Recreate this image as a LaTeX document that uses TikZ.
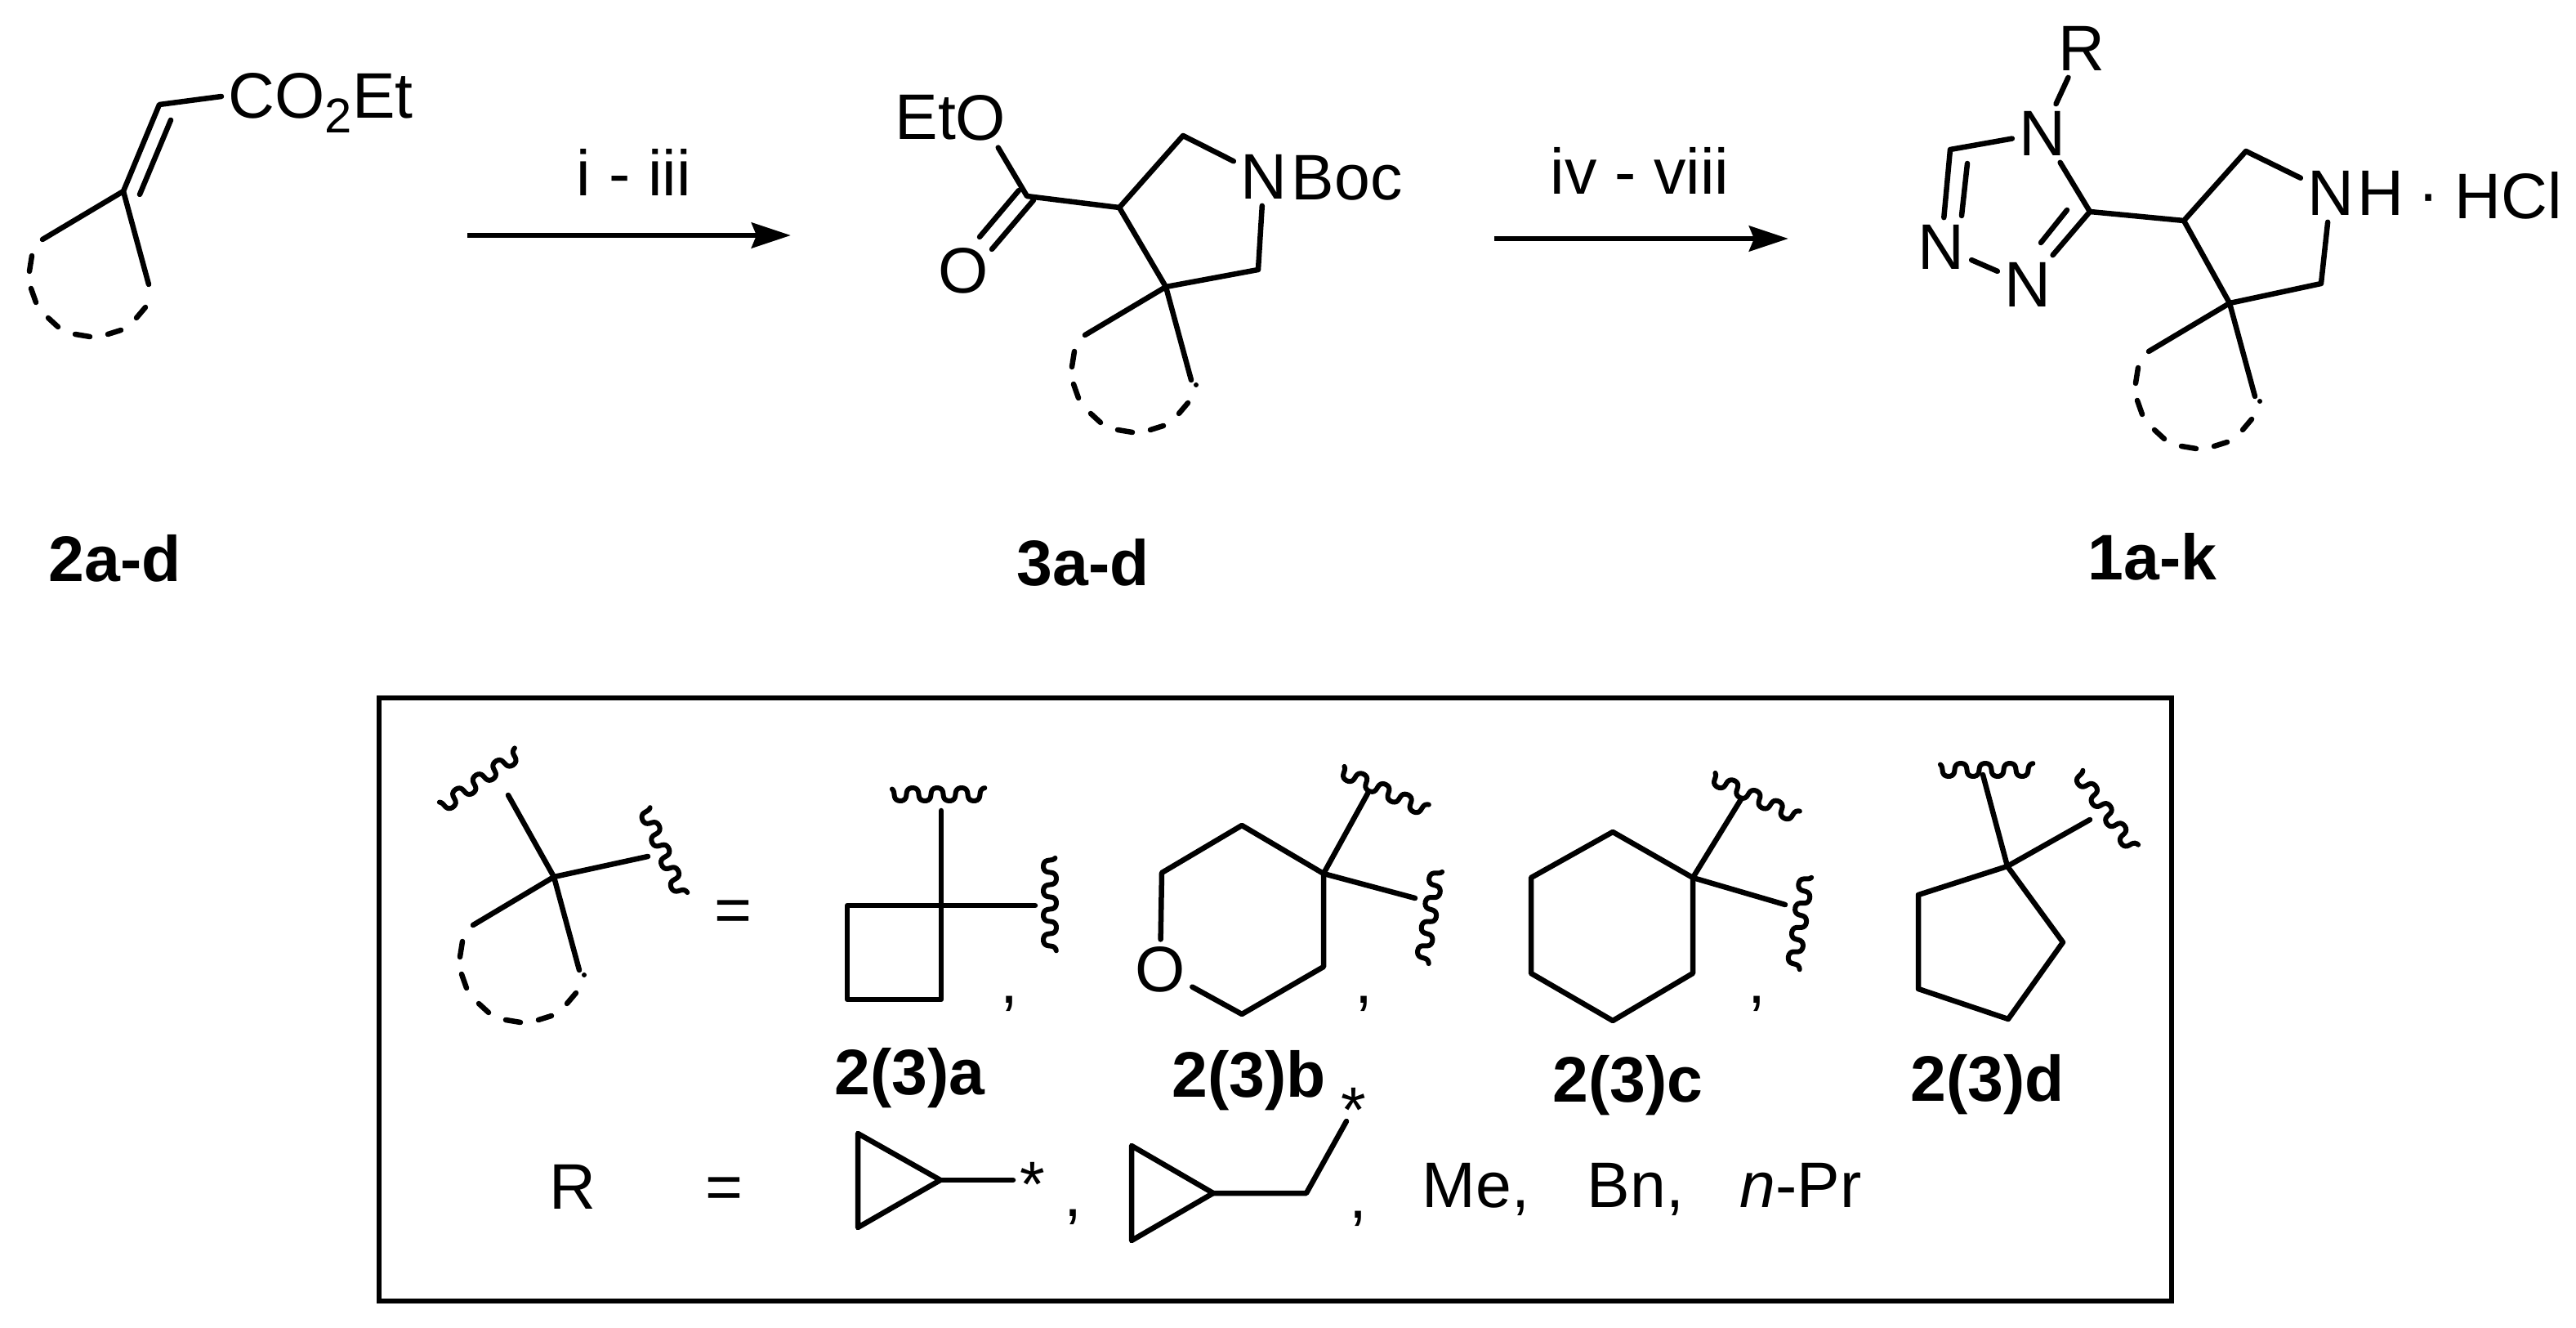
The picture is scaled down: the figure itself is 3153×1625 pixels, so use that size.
\documentclass[tikz,border=0pt]{standalone}
\usepackage{fontspec}
\setmainfont{Liberation Sans}
\usepackage{tikz}
\usetikzlibrary{arrows.meta}
\tikzstyle{bond}=[line width=0.065cm,line cap=round,line join=round]
\tikzstyle{wavy}=[line width=0.06cm,line cap=round]
\tikzstyle{reaction}=[line width=0.065cm,-{Stealth[length=0.48cm,width=0.31cm,inset=0.06cm]}]
\tikzstyle{lbl}=[anchor=base west,inner sep=0pt,font=\fontsize{22.4}{26}\selectfont]
\tikzstyle{cmpd}=[lbl,font=\fontsize{22.4}{26}\selectfont\bfseries]
\tikzstyle{atom}=[inner sep=0.08cm,font=\fontsize{22.4}{26}\selectfont]
\tikzstyle{tick}=[lbl,anchor=base]
\tikzset{
  spiroring/.pic={
    \coordinate (-c) at (0,0);
    \coordinate (-l) at (-99,59);
    \coordinate (-r) at (31,114);
    \draw[bond] (-l) -- (-c) -- (-r);
    \foreach \xa/\ya/\xb/\yb in {-112/79/-115/98,-113/119/-107/136,-92/155/-80/166,-59/175/-41/178,-19/175/-3/170,16/155/27/142}
      \draw[bond] (\xa,\ya) -- (\xb,\yb);
  },
  ringdot/.pic={\fill (37,120) circle (0.03cm);},
  wiggle/.pic={
    \draw[wavy] plot[domain=-0.15:3.72,samples=90,smooth] ({30*(\x+0.15)-2*sin(720*\x)},{8*sin(360*\x)});
  }
}
\begin{document}
\begin{tikzpicture}[x=0.01cm,y=-0.01cm]
\useasboundingbox (0,0) rectangle (3153,1625);

% ester 2
\pic (s2) at (151,234) {spiroring};
\coordinate (c2a) at (195,128);
\coordinate (c2b) at (209,147);
\coordinate (c2c) at (171,238);
\coordinate (c2e) at (271,118);
\node [lbl] (ester) at (279,145) {CO\raisebox{-0.17cm}{\fontsize{17}{20}\selectfont 2}Et};
\draw[bond] (s2-c) -- (c2a) -- (c2e);
\draw[bond] (c2b) -- (c2c);
\node [cmpd] (l2) at (59,712) {2a-d};

\coordinate (a1s) at (572,288);
\coordinate (a1e) at (968,288);
\draw[reaction] (a1s) -- (a1e);
\node [lbl] (cond1) at (705,240) {i - iii};

% pyrrolidine 3
\pic (s3) at (1427,351) {spiroring};
\pic at (s3-c) {ringdot};
\node [lbl] (et) at (1095,171) {Et};
\node [atom] (o3a) at (1200,144) {O};
\node [atom] (o3b) at (1179,331) {O};
\node [atom] (n3) at (1547,216) {N};
\node [lbl] (boc) at (1580,245) {Boc};
\coordinate (c3co) at (1257,240);
\coordinate (c3a) at (1247,233);
\coordinate (c3b) at (1199,290);
\coordinate (c3c) at (1265,245);
\coordinate (c3d) at (1214,305);
\coordinate (c34) at (1370,254);
\coordinate (c35) at (1448,166);
\coordinate (c36) at (1540,330);
\draw[bond] (o3a) -- (c3co) -- (c34) -- (c35) -- (n3) -- (c36) -- (s3-c) -- (c34);
\draw[bond] (c3a) -- (c3b);
\draw[bond] (c3c) -- (c3d);
\node [cmpd] (l3) at (1244,717) {3a-d};

\coordinate (a2s) at (1829,292);
\coordinate (a2e) at (2189,292);
\draw[reaction] (a2s) -- (a2e);
\node [lbl] (cond2) at (1897,238) {iv - viii};

% triazole 1
\pic (s1) at (2729,371) {spiroring};
\pic at (s1-c) {ringdot};
\node [atom] (r1) at (2548,59) {R};
\node [atom] (n14) at (2500,163) {N};
\node [atom] (n11) at (2376,302) {N};
\node [atom] (n12) at (2482,348) {N};
\node [atom] (n1h) at (2853,236) {N};
\node [lbl] (h1) at (2885,264) {H};
\node [tick] (dot1) at (2973,264) {·};
\node [lbl] (hcl) at (3004,268) {HCl};
\coordinate (c1ch) at (2387,183);
\coordinate (c1a) at (2408,200);
\coordinate (c1b) at (2401,264);
\coordinate (c1c) at (2530,257);
\coordinate (c1d) at (2498,297);
\coordinate (c13) at (2558,259);
\coordinate (c14) at (2673,270);
\coordinate (c15) at (2749,185);
\coordinate (c16) at (2841,347);
\draw[bond] (r1) -- (n14) -- (c1ch) -- (n11) -- (n12) -- (c13) -- (n14);
\draw[bond] (c1a) -- (c1b);
\draw[bond] (c1c) -- (c1d);
\draw[bond] (c13) -- (c14) -- (c15) -- (n1h) -- (c16) -- (s1-c) -- (c14);
\node [cmpd] (l1) at (2555,710) {1a-k};

% legend box
\draw[line width=0.055cm] (464,854) rectangle (2658,1592);

\pic (s0) at (678,1073) {spiroring};
\pic at (s0-c) {ringdot};
\coordinate (c0t) at (622,973);
\coordinate (c0r) at (793,1048);
\draw[bond] (c0t) -- (s0-c) -- (c0r);
\pic[rotate=35] at (540,988) {wiggle};
\pic[rotate=-67] at (789,989) {wiggle};
\node [lbl] (eq1) at (874,1140) {=};

% cyclobutane
\coordinate (a1) at (1152,1108);
\coordinate (a2) at (1037,1108);
\coordinate (a3) at (1037,1223);
\coordinate (a4) at (1152,1223);
\coordinate (at) at (1152,992);
\coordinate (ar) at (1267,1108);
\draw[bond] (a1) -- (a2) -- (a3) -- (a4) -- (at);
\draw[bond] (a1) -- (ar);
\pic at (1090,972) {wiggle};
\pic[rotate=-90] at (1285,1048) {wiggle};
\node [tick] (ca) at (1235,1228) {,};
\node [cmpd] (la) at (1021,1339) {2(3)a};

% oxane
\node [atom] (ob) at (1420,1186) {O};
\coordinate (b1) at (1620,1069);
\coordinate (b2) at (1520,1010);
\coordinate (b3) at (1422,1068);
\coordinate (b5) at (1520,1241);
\coordinate (b6) at (1620,1183);
\coordinate (bt) at (1674,971);
\coordinate (br) at (1732,1099);
\draw[bond] (b1) -- (b2) -- (b3) -- (ob) -- (b5) -- (b6) -- (b1);
\draw[bond] (bt) -- (b1) -- (br);
\pic[rotate=-25] at (1641,943) {wiggle};
\pic[rotate=-99] at (1759,1064) {wiggle};
\node [tick] (cb) at (1669,1228) {,};
\node [cmpd] (lb) at (1434,1343) {2(3)b};

% cyclohexane
\coordinate (c1) at (2072,1074);
\coordinate (c2) at (1974,1018);
\coordinate (c3) at (1874,1074);
\coordinate (c4) at (1874,1191);
\coordinate (c5) at (1974,1249);
\coordinate (c6) at (2072,1191);
\coordinate (ct) at (2131,978);
\coordinate (cr) at (2185,1107);
\draw[bond] (c1) -- (c2) -- (c3) -- (c4) -- (c5) -- (c6) -- cycle;
\draw[bond] (ct) -- (c1) -- (cr);
\pic[rotate=-25] at (2095,951) {wiggle};
\pic[rotate=-98] at (2211,1071) {wiggle};
\node [tick] (cc) at (2150,1228) {,};
\node [cmpd] (lc) at (1900,1348) {2(3)c};

% cyclopentane
\coordinate (d1) at (2457,1060);
\coordinate (d2) at (2348,1095);
\coordinate (d3) at (2348,1210);
\coordinate (d4) at (2458,1247);
\coordinate (d5) at (2525,1153);
\coordinate (dt) at (2427,948);
\coordinate (dr) at (2558,1003);
\draw[bond] (d1) -- (d2) -- (d3) -- (d4) -- (d5) -- cycle;
\draw[bond] (dt) -- (d1) -- (dr);
\pic at (2373,942) {wiggle};
\pic[rotate=-54] at (2543,945) {wiggle};
\node [cmpd] (ld) at (2338,1347) {2(3)d};

% R groups
\node [lbl] (rr) at (672,1479) {R};
\node [lbl] (eq2) at (863,1479) {=};
\coordinate (p1) at (1050,1387);
\coordinate (p2) at (1050,1502);
\coordinate (p3) at (1151,1444);
\coordinate (p4) at (1240,1444);
\draw[bond] (p1) -- (p2) -- (p3) -- cycle;
\draw[bond] (p3) -- (p4);
\node [tick] (stara) at (1264,1476) {*};
\node [tick] (cd) at (1313,1488) {,};
\coordinate (q1) at (1385,1402);
\coordinate (q2) at (1385,1518);
\coordinate (q3) at (1485,1460);
\coordinate (q4) at (1599,1460);
\coordinate (q5) at (1648,1372);
\draw[bond] (q1) -- (q2) -- (q3) -- cycle;
\draw[bond] (q3) -- (q4) -- (q5);
\node [tick] (starb) at (1657,1386) {*};
\node [tick] (ce) at (1662,1490) {,};
\node [lbl] (me) at (1740,1477) {Me,};
\node [lbl] (bn) at (1942,1477) {Bn,};
\node [lbl] (npr) at (2129,1477) {\textit{n}-Pr};
\end{tikzpicture}
\end{document}
